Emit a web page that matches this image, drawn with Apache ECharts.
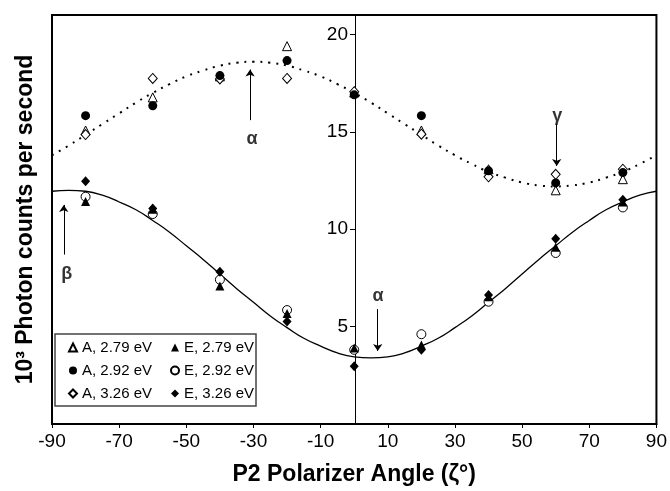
<!DOCTYPE html>
<html>
<head>
<meta charset="utf-8">
<script src="https://cdn.jsdelivr.net/npm/echarts@6/dist/echarts.min.js"></script>
<style>
  html, body { margin: 0; background: #fff; }
  #main { width: 670px; height: 491px; }
</style>
</head>
<body>
<div id="main"></div>
<script>
// measured angles (deg)
const anglesData = [-80, -60, -40, -20, 0, 20, 40, 60, 80];

// A peaks (upper group)
const a279 = [15.07, 16.77, 17.85, 19.40, 17.02, 15.07, 13.08, 12.00, 12.57];
const a292 = [15.83, 16.34, 17.89, 18.66, 16.90, 15.83, 13.00, 12.38, 12.91];
const a326 = [14.86, 17.74, 17.72, 17.74, 17.06, 14.88, 12.69, 12.82, 13.08];

// E peaks (lower group)
const e279 = [11.43, 11.02, 7.09, 5.68, 3.90, 4.06, 6.53, 9.08, 11.40];
const e292 = [11.67, 10.78, 7.41, 5.85, 3.81, 4.61, 6.28, 8.78, 11.12];
const e326 = [12.47, 11.06, 7.82, 5.26, 2.96, 3.81, 6.62, 9.51, 11.52];

// fitted curves every 5 deg
const anglesFit = [-90, -85, -80, -75, -70, -65, -60, -55, -50, -45, -40, -35, -30, -25, -20, -15, -10, -5,
  0, 5, 10, 15, 20, 25, 30, 35, 40, 45, 50, 55, 60, 65, 70, 75, 80, 85, 90];
const fitUpper = [13.8, 14.3, 14.85, 15.4, 15.95, 16.5, 17.0, 17.45, 17.85, 18.15, 18.4, 18.55, 18.6, 18.55, 18.4, 18.15, 17.85, 17.45,
  17.0, 16.5, 15.95, 15.4, 14.85, 14.3, 13.8, 13.35, 12.95, 12.65, 12.4, 12.25, 12.2, 12.25, 12.4, 12.65, 12.95, 13.35, 13.8];
const fitLower = [11.95, 12.0, 11.95, 11.75, 11.4, 11.0, 10.45, 9.85, 9.15, 8.45, 7.7, 6.95, 6.25, 5.55, 4.95, 4.4, 4.0, 3.65,
  3.45, 3.4, 3.45, 3.65, 4.0, 4.4, 4.95, 5.55, 6.25, 6.95, 7.7, 8.45, 9.15, 9.85, 10.45, 11.0, 11.4, 11.75, 11.95];

// annotation arrows (from, to) and letters
const arrows = [
  [[-31, 15.6], [-31, 18.2]],
  [[7, 5.9], [7, 3.75]],
  [[60.3, 15.4], [60.3, 13.25]],
  [[-86.5, 8.7], [-86.5, 11.25]]
];
const letters = [
  ['α', -30.4, 14.65],
  ['α', 7.1, 6.55],
  ['γ', 60.5, 15.8],
  ['β', -85.6, 7.7]
];

const FONT = '"Liberation Sans", Arial, Helvetica, sans-serif';

let myChart = echarts.init(document.getElementById('main'));

function pairs(xs, ys) {
  return xs.map((x, i) => [x, ys[i]]);
}

function dots(name, symbol, filled, values, size, z) {
  return {
    name: name,
    type: 'scatter',
    symbol: symbol,
    symbolSize: size,
    data: pairs(anglesData, values),
    z: z,
    itemStyle: {
      color: filled ? '#000' : '#fff',
      borderColor: '#000',
      borderWidth: filled ? 0 : 1,
      opacity: 1
    }
  };
}

myChart.setOption({
  backgroundColor: '#fff',
  animation: false,
  textStyle: { fontFamily: FONT },
  grid: {
    left: 52,
    right: 12,
    top: 15,
    bottom: 64,
    show: true,
    borderColor: '#000',
    borderWidth: 2
  },
  graphic: [
    {
      type: 'rect',
      z: 1,
      shape: { x: 55, y: 334, width: 201, height: 72 },
      style: { fill: 'none', stroke: '#444', lineWidth: 1.5 }
    }
  ],
  legend: [
    {
      data: ['A, 2.79 eV', 'A, 2.92 eV', 'A, 3.26 eV'],
      orient: 'vertical',
      left: 63,
      top: 335,
      itemGap: 8,
      itemWidth: 8,
      itemHeight: 8,
      selectedMode: false,
      textStyle: { fontSize: 15, color: '#000', fontFamily: FONT }
    },
    {
      data: ['E, 2.79 eV', 'E, 2.92 eV', 'E, 3.26 eV'],
      orient: 'vertical',
      left: 165,
      top: 335,
      itemGap: 8,
      itemWidth: 8,
      itemHeight: 8,
      selectedMode: false,
      textStyle: { fontSize: 15, color: '#000', fontFamily: FONT }
    }
  ],
  xAxis: {
    type: 'value',
    min: -90,
    max: 90,
    interval: 20,
    name: 'P2 Polarizer Angle (ζ°)',
    nameLocation: 'middle',
    nameGap: 39,
    nameTextStyle: { fontSize: 23, fontWeight: 'bold', color: '#000', fontFamily: FONT },
    axisLine: { onZero: false, lineStyle: { color: '#000', width: 2 } },
    axisTick: { show: true, length: 4, lineStyle: { color: '#000' } },
    axisLabel: { fontSize: 19, color: '#000', margin: 8, fontFamily: FONT },
    splitLine: { show: false }
  },
  yAxis: [
    {
      // sits at x = 0: half of the 606px plot width in from the left edge
      type: 'value',
      position: 'left',
      offset: -303,
      min: 0,
      max: 21,
      interval: 5,
      axisLine: { show: true, onZero: false, lineStyle: { color: '#000', width: 1 } },
      axisTick: { show: true, length: 5, lineStyle: { color: '#000' } },
      axisLabel: {
        fontSize: 19,
        color: '#000',
        margin: 7,
        fontFamily: FONT,
        showMaxLabel: false,
        formatter: function (v) { return v === 0 ? '' : v; }
      },
      splitLine: { show: false }
    },
    {
      // only used to hold the axis title on the left edge
      type: 'value',
      position: 'left',
      min: 0,
      max: 21,
      name: '10³ Photon counts per second',
      nameLocation: 'middle',
      nameGap: 15,
      nameTextStyle: { fontSize: 23, fontWeight: 'bold', color: '#000', fontFamily: FONT },
      axisLine: { show: false, onZero: false },
      axisTick: { show: false },
      axisLabel: { show: false },
      splitLine: { show: false }
    }
  ],
  series: [
    {
      name: 'fit A',
      type: 'line',
      smooth: true,
      showSymbol: false,
      data: pairs(anglesFit, fitUpper),
      z: 1,
      lineStyle: { color: '#000', width: 2, type: [2, 6] }
    },
    {
      name: 'fit E',
      type: 'line',
      smooth: true,
      showSymbol: false,
      data: pairs(anglesFit, fitLower),
      z: 1,
      lineStyle: { color: '#000', width: 1.3 }
    },
    dots('A, 2.79 eV', 'triangle', false, a279, 9, 3),
    dots('A, 3.26 eV', 'diamond', false, a326, [9, 10], 3),
    dots('A, 2.92 eV', 'circle', true, a292, 9, 4),
    dots('E, 2.92 eV', 'circle', false, e292, 9, 3),
    dots('E, 2.79 eV', 'triangle', true, e279, 9, 4),
    dots('E, 3.26 eV', 'diamond', true, e326, [9, 10], 4),
    {
      name: 'arrows',
      type: 'lines',
      coordinateSystem: 'cartesian2d',
      symbol: ['none', 'arrow'],
      symbolSize: [0, 7],
      z: 5,
      lineStyle: { color: '#000', width: 1, opacity: 1 },
      data: arrows.map(a => ({ coords: a }))
    },
    {
      name: 'letters',
      type: 'scatter',
      symbolSize: 0,
      z: 5,
      data: letters.map(l => ({ name: l[0], value: [l[1], l[2]] })),
      label: {
        show: true,
        position: 'inside',
        formatter: '{b}',
        fontSize: 18,
        fontWeight: 'bold',
        color: '#000',
        fontFamily: FONT
      }
    }
  ]
});
</script>
</body>
</html>
